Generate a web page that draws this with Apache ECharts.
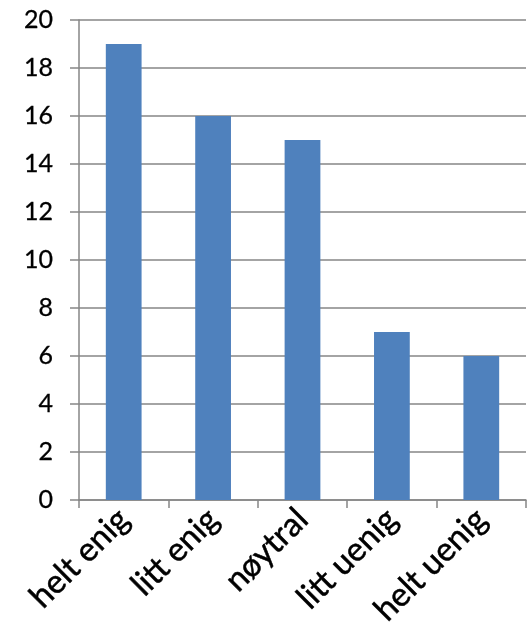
<!DOCTYPE html>
<html>
<head>
<meta charset="utf-8">
<script src="https://cdn.jsdelivr.net/npm/echarts@6/dist/echarts.min.js"></script>
<style>
  html, body { margin: 0; padding: 0; background: #fff; }
  #chart { width: 529px; height: 638px; }
</style>
</head>
<body>
<div id="chart"></div>
<script>
// Survey answers and how many chose each
const categories = ['helt enig', 'litt enig', 'nøytral', 'litt uenig', 'helt uenig'];
const counts = [19, 16, 15, 7, 6];
const yTicks = { min: 0, max: 20, interval: 2 };

const chart = echarts.init(document.getElementById('chart'));
const gray = '#868686';
const font = 'Lato, "Liberation Sans", sans-serif';

chart.setOption({
  animation: false,
  grid: { left: 79, right: 3, top: 20, bottom: 138 },
  xAxis: {
    type: 'category',
    data: categories,
    axisLine: { lineStyle: { color: gray, width: 1.5 } },
    axisTick: { show: true, length: 8, alignWithLabel: false, lineStyle: { color: gray, width: 1.5 } },
    axisLabel: {
      rotate: 45,
      interval: 0,
      margin: 14,
      color: '#000',
      fontFamily: font,
      fontSize: 33,
      textBorderColor: '#000',
      textBorderWidth: 0.5
    }
  },
  yAxis: {
    type: 'value',
    min: yTicks.min,
    max: yTicks.max,
    interval: yTicks.interval,
    axisLine: { show: true, lineStyle: { color: gray, width: 1.5 } },
    axisTick: { show: true, length: 9, lineStyle: { color: gray, width: 1.5 } },
    splitLine: { lineStyle: { color: gray, width: 1.5 } },
    axisLabel: {
      color: '#000', fontFamily: font, fontSize: 25, margin: 26,
      textBorderColor: '#000', textBorderWidth: 0.3
    }
  },
  series: [{
    type: 'bar',
    data: counts,
    barWidth: '40%',
    itemStyle: { color: '#4F81BD' }
  }]
});
</script>
</body>
</html>
